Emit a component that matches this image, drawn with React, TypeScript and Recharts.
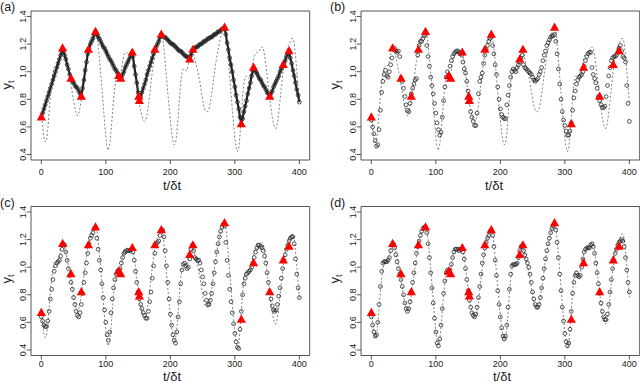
import React from 'react';
import { ComposedChart, Line, XAxis, YAxis, ReferenceArea } from 'recharts';

// time grid step (t/δt) of the sampled series
const STEP = 2;

// true signal (dashed), t = 0, 2, ..., 400
const truthY = [
  0.70, 0.60, 0.52, 0.49, 0.50, 0.58, 0.70, 0.82, 0.92, 0.99,
  1.03, 1.04, 1.04, 1.05, 1.08, 1.13, 1.17, 1.17, 1.15, 1.11,
  1.06, 1.01, 0.96, 0.91, 0.85, 0.79, 0.74, 0.70, 0.68, 0.70,
  0.74, 0.80, 0.87, 0.94, 1.01, 1.08, 1.14, 1.19, 1.23, 1.26,
  1.28, 1.30, 1.30, 1.27, 1.20, 1.10, 0.99, 0.88, 0.76, 0.64,
  0.53, 0.45, 0.43, 0.47, 0.56, 0.68, 0.80, 0.89, 0.95, 0.98,
  0.97, 0.97, 1.01, 1.07, 1.12, 1.14, 1.14, 1.13, 1.13, 1.14,
  1.14, 1.12, 1.07, 1.00, 0.92, 0.84, 0.77, 0.72, 0.68, 0.65,
  0.64, 0.65, 0.69, 0.75, 0.83, 0.92, 1.00, 1.07, 1.13, 1.18,
  1.22, 1.25, 1.27, 1.28, 1.25, 1.17, 1.07, 0.96, 0.85, 0.75,
  0.65, 0.56, 0.50, 0.47, 0.48, 0.55, 0.67, 0.80, 0.92, 0.99,
  1.02, 1.02, 1.01, 1.01, 1.05, 1.11, 1.15, 1.16, 1.13, 1.09,
  1.05, 1.01, 0.97, 0.92, 0.86, 0.80, 0.75, 0.72, 0.71, 0.71,
  0.73, 0.78, 0.84, 0.91, 0.98, 1.05, 1.11, 1.16, 1.21, 1.25,
  1.28, 1.31, 1.32, 1.29, 1.20, 1.09, 0.97, 0.85, 0.73, 0.62,
  0.52, 0.45, 0.42, 0.44, 0.54, 0.68, 0.82, 0.92, 0.96, 0.97,
  0.96, 0.95, 0.97, 1.02, 1.07, 1.11, 1.13, 1.14, 1.14, 1.15,
  1.17, 1.18, 1.17, 1.12, 1.05, 0.97, 0.89, 0.81, 0.74, 0.67,
  0.62, 0.59, 0.59, 0.63, 0.70, 0.79, 0.88, 0.97, 1.05, 1.11,
  1.15, 1.18, 1.20, 1.22, 1.24, 1.24, 1.21, 1.12, 1.01, 0.89,
  0.78,
];

// estimates (circles), t = 0, 2, ..., 400
const estA = [
  0.67, 0.70, 0.73, 0.76, 0.79, 0.82, 0.85, 0.88, 0.91, 0.94,
  0.97, 1.00, 1.03, 1.06, 1.09, 1.12, 1.15, 1.15, 1.12, 1.09,
  1.05, 1.02, 0.98, 0.95, 0.93, 0.92, 0.90, 0.89, 0.88, 0.86,
  0.84, 0.82, 0.88, 0.94, 1.01, 1.07, 1.13, 1.17, 1.20, 1.22,
  1.24, 1.27, 1.29, 1.27, 1.25, 1.24, 1.22, 1.20, 1.18, 1.17,
  1.15, 1.13, 1.11, 1.09, 1.08, 1.06, 1.04, 1.02, 1.01, 0.99,
  0.97, 0.96, 0.96, 0.98, 1.00, 1.03, 1.05, 1.07, 1.09, 1.11,
  1.13, 1.11, 1.04, 0.98, 0.92, 0.85, 0.79, 0.82, 0.85, 0.88,
  0.91, 0.94, 0.98, 1.01, 1.04, 1.07, 1.10, 1.13, 1.16, 1.18,
  1.20, 1.22, 1.25, 1.27, 1.26, 1.25, 1.25, 1.24, 1.23, 1.22,
  1.21, 1.20, 1.20, 1.19, 1.18, 1.17, 1.16, 1.15, 1.15, 1.14,
  1.13, 1.12, 1.11, 1.11, 1.10, 1.09, 1.12, 1.15, 1.16, 1.17,
  1.18, 1.18, 1.19, 1.20, 1.20, 1.21, 1.22, 1.22, 1.23, 1.24,
  1.24, 1.25, 1.25, 1.26, 1.27, 1.27, 1.28, 1.29, 1.29, 1.30,
  1.31, 1.31, 1.32, 1.27, 1.21, 1.16, 1.10, 1.05, 1.00, 0.94,
  0.89, 0.83, 0.78, 0.73, 0.67, 0.62, 0.66, 0.71, 0.75, 0.79,
  0.84, 0.88, 0.92, 0.97, 1.01, 1.02, 1.00, 0.99, 0.97, 0.95,
  0.94, 0.92, 0.90, 0.89, 0.87, 0.85, 0.84, 0.82, 0.84, 0.86,
  0.89, 0.91, 0.93, 0.95, 0.97, 1.00, 1.02, 1.04, 1.06, 1.08,
  1.11, 1.13, 1.15, 1.10, 1.06, 1.01, 0.97, 0.92, 0.87, 0.83,
  0.78,
];

const estB = [
  0.65, 0.60, 0.55, 0.50, 0.46, 0.47, 0.58, 0.72, 0.85, 0.93,
  0.98, 1.01, 0.97, 0.96, 1.00, 1.05, 1.10, 1.16, 1.17, 1.15,
  1.14, 1.15, 1.11, 0.95, 0.93, 0.88, 0.82, 0.76, 0.72, 0.71,
  0.77, 0.84, 0.88, 0.91, 0.94, 0.95, 1.12, 1.19, 1.22, 1.22,
  1.24, 1.26, 1.27, 1.19, 1.11, 1.04, 0.96, 0.90, 0.84, 0.77,
  0.70, 0.63, 0.58, 0.54, 0.56, 0.67, 0.79, 0.89, 0.96, 1.00,
  0.97, 1.04, 1.08, 1.11, 1.13, 1.14, 1.15, 1.15, 1.14, 1.13,
  1.12, 1.07, 1.02, 0.99, 0.93, 0.86, 0.78, 0.71, 0.67, 0.64,
  0.61, 0.61, 0.70, 0.84, 0.93, 0.96, 0.99, 1.06, 1.12, 1.16,
  1.19, 1.22, 1.24, 1.25, 1.19, 1.13, 1.05, 0.98, 0.89, 0.80,
  0.73, 0.69, 0.67, 0.66, 0.66, 0.76, 0.83, 0.90, 0.96, 1.00,
  1.02, 1.01, 1.00, 1.03, 1.05, 1.07, 1.10, 1.12, 1.05, 1.03,
  1.02, 1.01, 1.00, 0.99, 0.98, 0.96, 0.94, 0.93, 0.94, 0.95,
  0.98, 1.00, 1.03, 1.08, 1.12, 1.15, 1.19, 1.21, 1.23, 1.25,
  1.26, 1.26, 1.27, 1.22, 1.13, 1.02, 0.91, 0.80, 0.71, 0.65,
  0.61, 0.57, 0.54, 0.54, 0.57, 0.63, 0.72, 0.81, 0.86, 0.91,
  0.94, 0.96, 0.97, 0.98, 1.00, 1.04, 1.08, 1.11, 1.13, 1.14,
  1.14, 1.03, 0.98, 0.95, 0.92, 0.88, 0.82, 0.79, 0.76, 0.74,
  0.74, 0.75, 0.82, 0.90, 0.97, 1.03, 1.08, 1.10, 1.11, 1.11,
  1.12, 1.14, 1.17, 1.19, 1.15, 1.11, 1.10, 1.07, 0.90, 0.77,
  0.64,
];

const estC = [
  0.64, 0.61, 0.58, 0.57, 0.57, 0.61, 0.68, 0.77, 0.84, 0.91,
  0.97, 1.01, 1.03, 1.04, 1.05, 1.08, 1.13, 1.17, 1.16, 1.11,
  1.05, 0.99, 0.94, 0.89, 0.84, 0.78, 0.73, 0.68, 0.65, 0.64,
  0.67, 0.73, 0.81, 0.89, 0.96, 1.03, 1.10, 1.17, 1.21, 1.23,
  1.25, 1.28, 1.29, 1.21, 1.13, 1.05, 0.98, 0.88, 0.78, 0.69,
  0.60, 0.51, 0.47, 0.53, 0.67, 0.77, 0.85, 0.91, 0.95, 0.97,
  0.98, 0.99, 1.03, 1.07, 1.10, 1.11, 1.12, 1.12, 1.12, 1.12,
  1.13, 1.11, 1.05, 0.97, 0.89, 0.82, 0.77, 0.73, 0.70, 0.67,
  0.65, 0.63, 0.63, 0.68, 0.75, 0.82, 0.92, 1.01, 1.10, 1.17,
  1.18, 1.19, 1.23, 1.27, 1.27, 1.22, 1.12, 1.01, 0.89, 0.77,
  0.66, 0.58, 0.51, 0.47, 0.45, 0.53, 0.64, 0.75, 0.88, 0.98,
  1.02, 1.03, 1.01, 0.99, 1.00, 1.06, 1.13, 1.16, 1.12, 1.07,
  1.06, 1.05, 1.05, 1.03, 0.98, 0.93, 0.88, 0.81, 0.76, 0.73,
  0.73, 0.76, 0.81, 0.88, 0.96, 1.04, 1.11, 1.17, 1.22, 1.26,
  1.29, 1.31, 1.30, 1.18, 1.05, 0.94, 0.84, 0.75, 0.67, 0.59,
  0.52, 0.46, 0.42, 0.41, 0.55, 0.68, 0.80, 0.88, 0.92, 0.95,
  0.96, 0.97, 0.98, 1.00, 1.03, 1.07, 1.11, 1.14, 1.16, 1.16,
  1.15, 1.14, 1.12, 1.08, 1.03, 0.96, 0.89, 0.82, 0.77, 0.72,
  0.69, 0.68, 0.69, 0.73, 0.79, 0.85, 0.92, 0.99, 1.05, 1.09,
  1.13, 1.16, 1.19, 1.21, 1.22, 1.22, 1.17, 1.06, 0.95, 0.85,
  0.78,
];

const estD = [
  0.64, 0.58, 0.53, 0.50, 0.51, 0.60, 0.73, 0.86, 0.97, 1.03,
  1.04, 1.04, 1.04, 1.05, 1.07, 1.12, 1.16, 1.17, 1.14, 1.09,
  1.04, 0.99, 0.95, 0.91, 0.86, 0.80, 0.74, 0.70, 0.68, 0.70,
  0.75, 0.82, 0.89, 0.96, 1.03, 1.10, 1.15, 1.19, 1.23, 1.26,
  1.28, 1.29, 1.29, 1.25, 1.17, 1.07, 0.96, 0.85, 0.74, 0.63,
  0.53, 0.45, 0.43, 0.48, 0.58, 0.70, 0.81, 0.90, 0.96, 0.98,
  0.97, 0.98, 1.02, 1.07, 1.11, 1.13, 1.13, 1.13, 1.12, 1.13,
  1.13, 1.11, 1.06, 0.99, 0.91, 0.83, 0.76, 0.71, 0.67, 0.65,
  0.64, 0.66, 0.71, 0.78, 0.86, 0.95, 1.03, 1.09, 1.14, 1.18,
  1.21, 1.23, 1.26, 1.27, 1.23, 1.15, 1.05, 0.94, 0.83, 0.73,
  0.64, 0.56, 0.50, 0.48, 0.50, 0.58, 0.71, 0.84, 0.95, 1.01,
  1.02, 1.02, 1.02, 1.03, 1.07, 1.12, 1.15, 1.15, 1.12, 1.09,
  1.06, 1.03, 1.00, 0.95, 0.89, 0.82, 0.77, 0.73, 0.71, 0.71,
  0.73, 0.78, 0.85, 0.92, 0.99, 1.06, 1.12, 1.17, 1.21, 1.25,
  1.28, 1.30, 1.31, 1.27, 1.18, 1.07, 0.95, 0.83, 0.71, 0.61,
  0.52, 0.46, 0.43, 0.45, 0.55, 0.68, 0.81, 0.89, 0.94, 0.96,
  0.94, 0.93, 0.94, 1.00, 1.06, 1.11, 1.13, 1.14, 1.14, 1.14,
  1.16, 1.17, 1.15, 1.10, 1.03, 0.96, 0.88, 0.81, 0.74, 0.68,
  0.64, 0.62, 0.62, 0.66, 0.73, 0.82, 0.91, 0.99, 1.05, 1.10,
  1.13, 1.16, 1.18, 1.19, 1.20, 1.19, 1.15, 1.07, 0.98, 0.89,
  0.82,
];

// noisy observations (red triangles)
const obsT = [0, 33, 46, 62, 73, 84, 120, 123, 141, 151, 152, 176, 186, 230, 235, 284, 310, 329, 354, 375, 384];
const obsY = [0.67, 1.17, 0.95, 0.82, 1.16, 1.29, 0.97, 0.95, 1.14, 0.82, 0.79, 1.16, 1.27, 1.09, 1.16, 1.32, 0.62, 1.03, 0.82, 1.05, 1.15];

const xTicks = [0, 100, 200, 300, 400];
const yTicks = [0.4, 0.6, 0.8, 1.0, 1.2, 1.4];
const yTickLabels = ['0.4', '0.6', '0.8', '1.0', '1.2', '1.4'];
const panelLabels = ['(a)', '(b)', '(c)', '(d)'];

const X_DOMAIN = [-16, 416];
const Y_DOMAIN = [0.36, 1.44];

const toRows = (ys: number[]) => ys.map((y, i) => ({ t: i * STEP, y }));
const truthRows = toRows(truthY);
const obsRows = obsT.map((t, i) => ({ t, y: obsY[i] }));
const estimates = [estA, estB, estC, estD].map(toRows);

const FONT = '"Liberation Sans", Arial, Helvetica, sans-serif';
const INK = '#1a1a1a';
const FRAME = '#555';

const yLabelFor = (v: any) => {
  const n = Number(v);
  const k = yTicks.findIndex((t) => Math.abs(t - n) < 1e-6);
  return k >= 0 ? yTickLabels[k] : String(v);
};

const YTick = (props: any) => {
  const { x, y, payload } = props;
  return (
    <text
      x={x}
      y={y}
      dy="0.35em"
      transform={`rotate(-90 ${x} ${y})`}
      textAnchor="middle"
      fontSize={9}
      fontFamily={FONT}
      fill={INK}
    >
      {yLabelFor(payload.value)}
    </text>
  );
};

const Triangle = (props: any) => {
  const { cx, cy, index } = props;
  if (cx == null || cy == null) return <g key={`tri-${index}`} />;
  return (
    <path
      key={`tri-${index}`}
      d={`M${cx},${cy - 5} L${cx + 4.6},${cy + 3.2} L${cx - 4.6},${cy + 3.2} Z`}
      fill="#ff0000"
    />
  );
};

type Layout = {
  left: number;
  top: number;
  yAxisW: number;
  marginTop: number;
  marginRight: number;
  xAxisH: number;
  tickMargin: number;
  xTitleX: number;
  yTitleX: number;
  yTitleY: number;
  labelX: number;
  labelY: number;
  lineW: number;
};

const layouts: Layout[] = [
  { left: 0, top: 0, yAxisW: 31, marginTop: 11, marginRight: 10.3, xAxisH: 31, tickMargin: 5, xTitleX: 172, yTitleX: 8.5, yTitleY: 85, labelX: 0, labelY: 1, lineW: 2.2 },
  { left: 320, top: 0, yAxisW: 41, marginTop: 11, marginRight: 0.3, xAxisH: 31, tickMargin: 5, xTitleX: 174, yTitleX: 16.5, yTitleY: 85, labelX: 10, labelY: 1, lineW: 0 },
  { left: 0, top: 191, yAxisW: 31, marginTop: 15.5, marginRight: 10.3, xAxisH: 26.5, tickMargin: 1, xTitleX: 172, yTitleX: 8.5, yTitleY: 88, labelX: 0, labelY: 5.5, lineW: 0 },
  { left: 320, top: 191, yAxisW: 41, marginTop: 15.5, marginRight: 0.3, xAxisH: 26.5, tickMargin: 1, xTitleX: 182, yTitleX: 16.5, yTitleY: 88, labelX: 10, labelY: 5.5, lineW: 0 },
];

const Panel = ({ idx }: { idx: number }) => {
  const L = layouts[idx];
  return (
    <div style={{ position: 'absolute', left: L.left, top: L.top, width: 320, height: 191 }}>
      <ComposedChart
        width={320}
        height={191}
        margin={{ top: L.marginTop, right: L.marginRight, bottom: 0, left: 0 }}
      >
        <XAxis
          type="number"
          dataKey="t"
          domain={X_DOMAIN}
          allowDataOverflow
          ticks={xTicks}
          interval={0}
          height={L.xAxisH}
          axisLine={false}
          tickLine={{ stroke: FRAME }}
          tickSize={4}
          tickMargin={L.tickMargin}
          tick={{ fontSize: 9, fill: INK, fontFamily: FONT }}
        />
        <YAxis
          type="number"
          dataKey="y"
          domain={Y_DOMAIN}
          allowDataOverflow
          ticks={yTicks}
          interval={0}
          width={L.yAxisW}
          axisLine={false}
          tickLine={{ stroke: FRAME }}
          tickSize={4}
          tickMargin={4}
          tickFormatter={yLabelFor}
          tick={(p: any) => <YTick {...p} />}
        />
        <ReferenceArea
          x1={X_DOMAIN[0]}
          x2={X_DOMAIN[1]}
          y1={Y_DOMAIN[0]}
          y2={Y_DOMAIN[1]}
          fill="none"
          fillOpacity={0}
          stroke={FRAME}
          strokeWidth={1}
          ifOverflow="visible"
        />
        <Line
          data={truthRows}
          dataKey="y"
          type="linear"
          stroke="#808080"
          strokeWidth={1}
          strokeDasharray="2 2"
          dot={false}
          activeDot={false}
          isAnimationActive={false}
        />
        <Line
          data={estimates[idx]}
          dataKey="y"
          type="linear"
          stroke={L.lineW > 0 ? '#222' : 'none'}
          strokeWidth={L.lineW > 0 ? L.lineW : 1}
          dot={{ r: 1.9, stroke: '#2a2a2a', strokeWidth: 0.8, fill: 'none' }}
          activeDot={false}
          isAnimationActive={false}
        />
        <Line
          data={obsRows}
          dataKey="y"
          type="linear"
          stroke="none"
          dot={Triangle}
          activeDot={false}
          isAnimationActive={false}
        />
      </ComposedChart>
      <div
        style={{
          position: 'absolute', left: L.labelX, top: L.labelY, fontSize: 12.5, lineHeight: '13px',
          fontFamily: FONT, color: INK, whiteSpace: 'nowrap',
        }}
      >
        {panelLabels[idx]}
      </div>
      <div
        style={{
          position: 'absolute', left: L.xTitleX, top: 184.5, transform: 'translate(-50%, -50%)',
          fontSize: 13, lineHeight: '11px', fontFamily: FONT, color: INK, whiteSpace: 'nowrap',
        }}
      >
        t/δt
      </div>
      <div
        style={{
          position: 'absolute', left: L.yTitleX, top: L.yTitleY, transform: 'translate(-50%, -50%) rotate(-90deg)',
          fontSize: 13, lineHeight: '13px', fontFamily: FONT, color: INK, whiteSpace: 'nowrap',
        }}
      >
        y<span style={{ fontSize: 9, verticalAlign: '-3px' }}>t</span>
      </div>
    </div>
  );
}

export default function App() {
  return (
    <div style={{ position: 'absolute', left: 0, top: 0, width: 640, height: 382, background: '#fff', overflow: 'hidden' }}>
      {[0, 1, 2, 3].map((i) => (
        <Panel key={i} idx={i} />
      ))}
    </div>
  );
}
